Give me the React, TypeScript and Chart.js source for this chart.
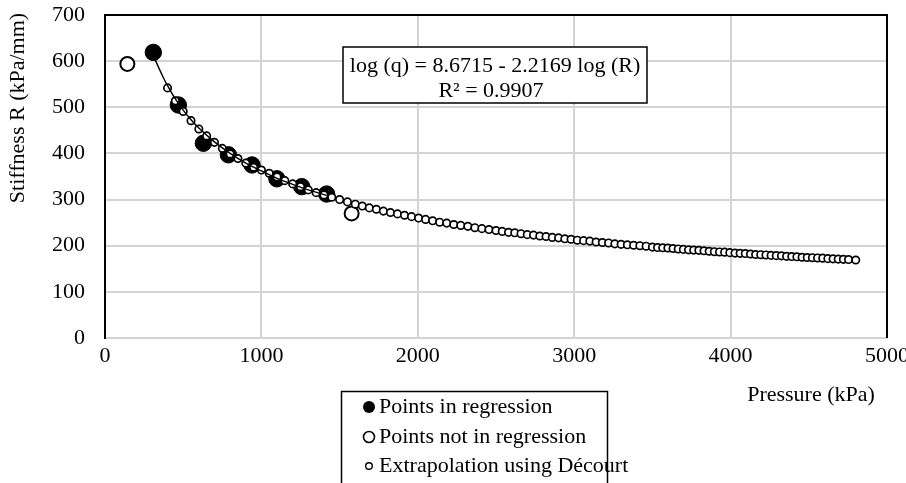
import React, { useEffect, useRef } from "react";
import { Chart, registerables } from "chart.js";

Chart.register(...registerables);

// Points used in the regression
const regPressure = [309, 469, 629, 789, 940, 1099, 1258, 1417];
const regStiffness = [619, 505, 422, 397, 375, 345, 328, 312];

// Points not used in the regression
const notRegPressure = [143, 1577];
const notRegStiffness = [594, 270];

// Regression trend line
const trendPressure = [309, 325, 350, 375, 400, 450, 500, 550, 600, 700, 800, 900, 1000, 1100, 1200, 1300, 1417];
const trendStiffness = [614, 600, 581, 563, 547, 518, 494, 473, 455, 425, 400, 379, 362, 346, 333, 321, 309];

// Extrapolation using Décourt
const extraPressure = [
  400, 450, 500, 550, 600, 650, 700, 750, 800, 850, 900, 950,
  1000, 1050, 1100, 1150, 1200, 1250, 1300, 1350, 1400, 1450, 1500, 1550, 1600,
  1645, 1690, 1735, 1780, 1825, 1870, 1915, 1960, 2005, 2050, 2095, 2140, 2185,
  2230, 2275, 2320, 2365, 2410, 2455, 2500,
  2540, 2580, 2620, 2660, 2700, 2740, 2780, 2820, 2860, 2900, 2940, 2980, 3020,
  3060, 3100, 3140, 3180, 3220, 3260, 3300, 3340, 3380, 3420, 3460, 3500,
  3533, 3566, 3599, 3632, 3665, 3698, 3731, 3764, 3797, 3830, 3863, 3896, 3929,
  3962, 3995, 4028, 4061, 4094, 4127, 4160, 4193, 4226, 4259, 4292, 4325, 4358,
  4391, 4424, 4457, 4490, 4523, 4556, 4589, 4622, 4655, 4688, 4721, 4754, 4800,
];
const extraStiffness = [
  542, 514, 491, 471, 453, 438, 424, 411, 399, 389, 379, 370,
  364, 357, 349, 341, 334, 328, 321, 315, 310, 305, 300, 295, 290,
  286, 282, 279, 275, 272, 269, 266, 263, 260, 257, 254, 251, 249,
  246, 244, 242, 239, 237, 235, 233,
  231, 229, 228, 226, 224, 223, 221, 220, 218, 217, 215, 214, 212,
  211, 210, 208, 207, 206, 204, 203, 202, 201, 200, 199, 197,
  196, 195.5, 195, 194, 193, 192, 191, 190.5, 190, 189, 188, 187, 186.5,
  186, 185, 184, 183.5, 183, 182, 181, 180.5, 180, 179, 178.5, 178, 177,
  176.5, 176, 175, 174.5, 174, 173.5, 173, 172, 171.5, 171, 170.5, 170, 169,
];

const xTickValues = [0, 1000, 2000, 3000, 4000, 5000];
const yTickValues = [0, 100, 200, 300, 400, 500, 600, 700];

const yTitle = "Stiffness R (kPa/mm)";
const xTitle = "Pressure (kPa)";
const equationLines = ["log (q) = 8.6715 - 2.2169 log (R)", "R² = 0.9907"];
const legendLabels = ["Points in regression", "Points not in regression", "Extrapolation using Décourt"];

const FONT = '"Liberation Serif", "Times New Roman", serif';

const zip = (xs: number[], ys: number[]) => xs.map((x, i) => ({ x, y: ys[i] }));

const decorPlugin = {
  id: "decor",
  afterDraw(chart: any) {
    const { ctx, chartArea } = chart;
    const { left, top, right, bottom } = chartArea;
    ctx.save();
    // top and right frame
    ctx.strokeStyle = "#000";
    ctx.lineWidth = 2;
    ctx.beginPath();
    ctx.moveTo(left, top);
    ctx.lineTo(right, top);
    ctx.lineTo(right, bottom);
    ctx.stroke();

    ctx.fillStyle = "#000";
    ctx.font = `22px ${FONT}`;
    ctx.textBaseline = "middle";

    // y title
    ctx.save();
    ctx.translate(18, 108);
    ctx.rotate(-Math.PI / 2);
    ctx.textAlign = "center";
    ctx.fillText(yTitle, 0, 0);
    ctx.restore();

    // x title
    ctx.textAlign = "center";
    ctx.fillText(xTitle, 811, 395);

    // equation box
    ctx.fillStyle = "#fff";
    ctx.fillRect(343, 47, 304, 56);
    ctx.strokeStyle = "#000";
    ctx.lineWidth = 1.5;
    ctx.strokeRect(343, 47, 304, 56);
    ctx.fillStyle = "#000";
    ctx.textAlign = "center";
    ctx.fillText(equationLines[0], 495, 66);
    ctx.fillText(equationLines[1], 491, 91);

    // legend box
    ctx.strokeRect(341.5, 391.5, 266, 110);
    const rows = [407, 437, 466];
    ctx.textAlign = "left";
    legendLabels.forEach((lab, i) => {
      const y = rows[i];
      ctx.beginPath();
      if (i === 0) {
        ctx.arc(369, y, 6, 0, Math.PI * 2);
        ctx.fillStyle = "#000";
        ctx.fill();
      } else if (i === 1) {
        ctx.arc(369, y, 5.5, 0, Math.PI * 2);
        ctx.fillStyle = "#fff";
        ctx.fill();
        ctx.lineWidth = 1.6;
        ctx.stroke();
      } else {
        ctx.arc(369, y, 3.3, 0, Math.PI * 2);
        ctx.fillStyle = "#fff";
        ctx.fill();
        ctx.lineWidth = 1.4;
        ctx.stroke();
      }
      ctx.fillStyle = "#000";
      ctx.fillText(lab, 379, y);
    });
    ctx.restore();
  },
};

export default function App() {
  const ref = useRef<HTMLCanvasElement | null>(null);
  useEffect(() => {
    document.body.style.margin = "0";
    const canvas = ref.current;
    if (!canvas) return;
    const chart = new Chart(canvas, {
      type: "scatter",
      data: {
        datasets: [
          {
            label: "trend",
            data: zip(trendPressure, trendStiffness),
            showLine: true,
            borderColor: "#000",
            borderWidth: 1.4,
            pointRadius: 0,
            cubicInterpolationMode: "monotone",
            order: 0,
          } as any,
          {
            label: legendLabels[2],
            data: zip(extraPressure, extraStiffness),
            pointRadius: 3.7,
            pointBorderWidth: 1.7,
            pointBackgroundColor: "#fff",
            pointBorderColor: "#000",
            order: 1,
          },
          {
            label: legendLabels[1],
            data: zip(notRegPressure, notRegStiffness),
            pointRadius: 7,
            pointBorderWidth: 2,
            pointBackgroundColor: "#fff",
            pointBorderColor: "#000",
            order: 2,
          },
          {
            label: legendLabels[0],
            data: zip(regPressure, regStiffness),
            pointRadius: 8.2,
            pointBorderWidth: 1,
            pointBackgroundColor: "#000",
            pointBorderColor: "#000",
            order: 3,
          },
        ],
      },
      options: {
        animation: false,
        responsive: false,
        maintainAspectRatio: false,
        layout: { padding: { left: 0, top: 15, right: 19, bottom: 0 } },
        plugins: { legend: { display: false }, tooltip: { enabled: false } },
        scales: {
          x: {
            type: "linear",
            min: 0,
            max: 5000,
            afterBuildTicks: (s: any) => {
              s.ticks = xTickValues.map((v) => ({ value: v }));
            },
            afterFit: (s: any) => {
              s.height = 145;
              s.paddingLeft = 0;
              s.paddingRight = 0;
            },
            ticks: {
              color: "#000",
              font: { family: FONT, size: 22 },
              padding: 5,
              maxRotation: 0,
              callback: (v: any) => String(v),
            },
            grid: { color: "#d4d4d4", lineWidth: 2, drawTicks: false },
            border: { display: true, color: "#d4d4d4", width: 2 },
          },
          y: {
            type: "linear",
            min: 0,
            max: 700,
            afterBuildTicks: (s: any) => {
              s.ticks = yTickValues.map((v) => ({ value: v }));
            },
            afterFit: (s: any) => {
              s.width = 105;
              s.paddingTop = 0;
              s.paddingBottom = 0;
            },
            ticks: {
              color: "#000",
              font: { family: FONT, size: 22 },
              padding: 20,
              callback: (v: any) => String(v),
            },
            grid: { color: "#d4d4d4", lineWidth: 2, drawTicks: false },
            border: { display: true, color: "#000", width: 2 },
          },
        },
      },
      plugins: [decorPlugin],
    });
    return () => chart.destroy();
  }, []);
  return (
    <div style={{ width: 906, height: 483, background: "#fff" }}>
      <canvas ref={ref} width={906} height={483} style={{ display: "block" }} />
    </div>
  );
}
